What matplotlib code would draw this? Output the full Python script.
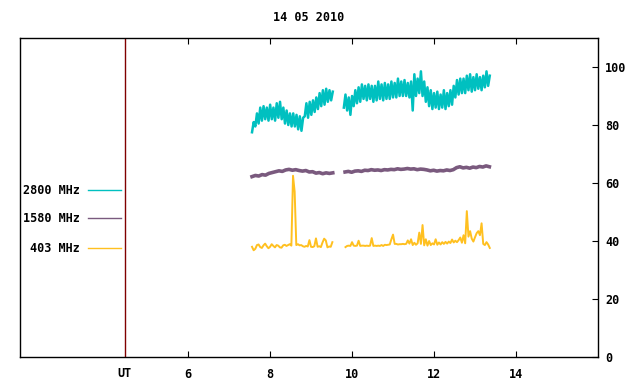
import numpy as np
import matplotlib.pyplot as plt

# 14 05 2010 radio flux, UT hours
title = "14 05 2010"
labels = ["2800 MHz", "1580 MHz", "403 MHz"]
colors = ["#00c0c0", "#7a5a7e", "#ffc020"]
widths = [1.8, 2.6, 1.4]

# 2800 MHz, two segments
t2800_a = (7.56, 9.53)
f2800_a = [77.5, 81, 79.5, 84, 80.5, 86, 81.5, 86.5, 82, 86,
           81.5, 87, 82, 86, 81.5, 87.5, 82.5, 88, 82, 86,
           80.5, 85, 80, 84, 79.5, 84, 79.5, 83.5, 78.5, 83,
           78, 82.5, 83, 87.5, 82.5, 88, 83.5, 88.5, 84.5, 89.5,
           85.5, 91, 86.5, 92, 87, 92.5, 88, 92, 88.5, 91.5]
t2800_b = (9.80, 13.36)
f2800_b = [86, 90.5, 85, 89.5, 83.5, 90, 86.5, 92, 87.5, 93,
           88, 94, 89, 93.5, 88.5, 94, 89, 93.5, 88, 93.5,
           88.5, 95, 89, 94, 88.5, 94.5, 89, 94, 89, 95,
           89.5, 94.5, 89.5, 96, 90, 95, 90, 95.5, 90, 94.5,
           89.5, 95, 85, 97.5, 90, 96, 91, 98.5, 90, 95,
           88, 93, 86.5, 92, 85.5, 91, 86, 91.5, 85.5, 90.5,
           86, 92, 85.5, 91, 86.5, 92, 87, 93.5, 89.5, 95.5,
           90.5, 96, 91, 96, 91, 97, 92, 97.5, 91.5, 96.5,
           92, 97.5, 92.5, 96.5, 92, 97, 93, 98.5, 93.5, 97]

# 1580 MHz
t1580_a = (7.56, 9.53)
f1580_a = [62.2, 62.6, 62.4, 62.9, 62.7, 63.3, 63.6, 63.9, 64.2, 64.0,
           64.5, 64.7, 64.4, 64.6, 64.3, 64.1, 64.3, 63.8, 63.9, 63.4,
           63.6, 63.2, 63.5, 63.3, 63.5]
t1580_b = (9.83, 13.35)
f1580_b = [63.8, 64.0, 63.7, 64.1, 64.2, 64.0, 64.4, 64.3, 64.6, 64.4,
           64.5, 64.3, 64.6, 64.5, 64.7, 64.6, 64.9, 64.7, 64.8, 65.0,
           64.8, 64.9, 64.6, 64.8, 64.7, 64.5, 64.2, 64.4, 64.1, 64.3,
           64.2, 64.5, 64.3, 64.6, 65.3, 65.6, 65.2, 65.4, 65.1, 65.5,
           65.3, 65.7, 65.5, 65.9, 65.6]

# 403 MHz
t403_a = (7.56, 9.52)
f403_a = [38.0, 36.8, 37.3, 38.6, 38.8, 37.9, 37.6, 38.5, 39.1, 38.2,
          37.5, 38.0, 38.9, 38.3, 37.8, 38.6, 38.4, 37.8, 37.7, 38.5,
          38.7, 38.3, 38.6, 38.9, 38.4, 62.5, 57.0, 38.6, 38.9, 38.5,
          38.6, 38.2, 38.0, 38.3, 38.1, 40.3, 38.0, 37.9, 38.2, 40.9,
          38.0, 38.2, 37.9, 39.5, 40.8, 40.2, 37.8, 38.1, 38.0, 39.6]
t403_b = (9.84, 13.36)
f403_b = [37.9, 38.3, 38.4, 38.3, 39.6, 38.4, 38.3, 38.4, 40.1, 38.3,
          38.4, 38.4, 38.3, 38.4, 38.3, 38.4, 41.0, 38.3, 38.4, 38.3,
          38.4, 38.3, 38.6, 38.3, 38.7, 38.6, 38.7, 38.8, 40.6, 42.2,
          39.0, 39.0, 38.8, 38.9, 38.9, 39.0, 38.9, 39.0, 40.2, 39.1,
          40.6, 38.6, 39.4, 38.7, 39.2, 42.9, 39.0, 45.5, 38.5, 40.6,
          38.4, 40.0, 38.6, 39.2, 38.8, 40.6, 38.7, 39.5, 38.8, 39.6,
          39.0, 39.7, 39.1, 39.8, 39.3, 40.5, 39.5, 40.1, 39.6, 40.3,
          41.2, 39.4, 42.0, 39.2, 50.3, 41.5, 43.4, 40.8, 39.8, 41.3,
          42.7, 43.4, 42.0, 46.1, 39.0, 38.6, 39.6, 38.8, 37.6]

xticks = [6, 8, 10, 12, 14]
yticks = [0, 20, 40, 60, 80, 100]
ut_pos = 4.46

series = [
    [(t2800_a, f2800_a), (t2800_b, f2800_b)],
    [(t1580_a, f1580_a), (t1580_b, f1580_b)],
    [(t403_a, f403_a), (t403_b, f403_b)],
]

font = dict(family="DejaVu Sans Mono", weight="bold", size=8.5)

fig = plt.figure(figsize=(6.4, 3.84), dpi=100)
ax = fig.add_axes([20/640, 1-357/384, 578/640, 319/384])

for segs, c, w in zip(series, colors, widths):
    for (t0, t1), vals in segs:
        t = np.linspace(t0, t1, len(vals))
        ax.plot(t, vals, color=c, lw=w)

ax.axvline(ut_pos, color="#800000", lw=1)

ax.set_xlim(1.9, 16.0)
ax.set_ylim(0, 110)

ax.yaxis.tick_right()
ax.set_yticks(yticks)
ax.set_xticks(xticks)
ax.tick_params(axis="x", direction="in", length=4, top=True, bottom=True, pad=8)
ax.tick_params(axis="y", direction="in", length=4, right=True, left=False, pad=5)
for lab in ax.get_xticklabels() + ax.get_yticklabels():
    lab.set_fontproperties(font)
for s in ax.spines.values():
    s.set_linewidth(1)

ax.text(ut_pos, -3.5, "UT", ha="center", va="top", **font)
ax.set_title(title, pad=12, **font)

# legend on the left
leg_y = [190, 218, 248]
for lab, c, py in zip(labels, colors, leg_y):
    yy = (357 - py) / 319
    ax.text((80 - 20) / 578, yy, lab, transform=ax.transAxes,
            ha="right", va="center", **font)
    ax.plot([(88 - 20) / 578, (121 - 20) / 578], [yy, yy], color=c, lw=1,
            transform=ax.transAxes)

fig.savefig("out.png", dpi=100)
